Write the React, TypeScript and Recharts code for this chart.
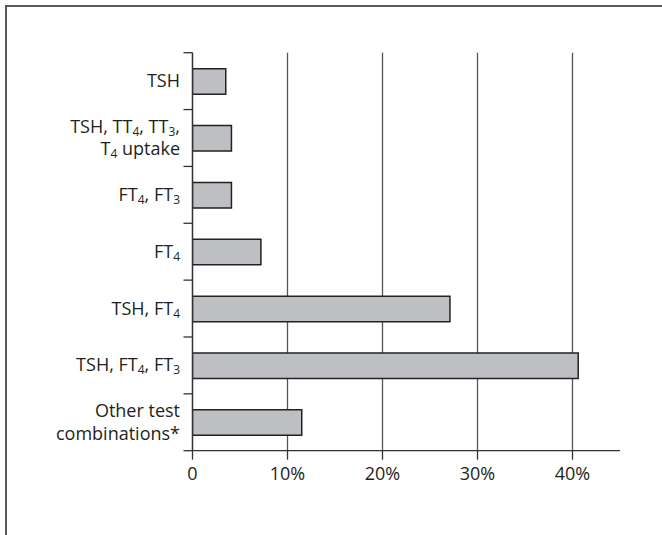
import React from "react";
import { BarChart, Bar, XAxis, YAxis, CartesianGrid } from "recharts";

// Category labels: "|" separates lines, "_n" marks a subscript digit
const categories = [
  "TSH",
  "TSH, TT_4, TT_3,|T_4 uptake",
  "FT_4, FT_3",
  "FT_4",
  "TSH, FT_4",
  "TSH, FT_4, FT_3",
  "Other test|combinations*",
];
const shares = [3.5, 4.1, 4.1, 7.2, 27.1, 40.6, 11.5];
const xTicks = [0, 10, 20, 30, 40];

const data = categories.map((c, i) => ({ name: c, value: shares[i] }));

const FONT = "'Open Sans', 'Noto Sans', sans-serif";
const INK = "#231f20";
const AXIS = "#333";

function renderLine(line: string, key: number, x: number, y: number) {
  const parts = line.split(/_(\d)/);
  const spans: React.ReactNode[] = [];
  let shifted = 0;
  parts.forEach((p, i) => {
    if (p === "") return;
    const isSub = i % 2 === 1;
    const target = isSub ? 3 : 0;
    const dy = target - shifted;
    shifted = target;
    spans.push(
      <tspan key={i} dy={dy} fontSize={isSub ? 12 : 18}>
        {p}
      </tspan>
    );
  });
  return (
    <text key={key} x={x} y={y} textAnchor="end" fontFamily={FONT} fontSize={18} fill={INK}>
      {spans}
    </text>
  );
}

const CategoryTick = (props: any) => {
  const { x, y, payload, visibleTicksCount } = props;
  const half = typeof payload.offset === "number" && payload.offset > 0 ? payload.offset : 28.43;
  const lines = String(payload.value).split("|");
  const lh = 22.5;
  const start = y + 6 - ((lines.length - 1) * lh) / 2;
  const isLast = payload.index === (visibleTicksCount ?? categories.length) - 1;
  return (
    <g>
      <line x1={x - 9} x2={x} y1={y - half} y2={y - half} stroke={AXIS} strokeWidth={1.3} />
      {isLast && <line x1={x - 9} x2={x} y1={y + half} y2={y + half} stroke={AXIS} strokeWidth={1.3} />}
      {lines.map((l, i) => renderLine(l, i, x - 12.5, start + i * lh))}
    </g>
  );
};

export default function App() {
  return (
    <div style={{ position: "absolute", left: 0, top: 0, width: 662, height: 535, background: "#fff" }}>
      <div
        style={{
          position: "absolute",
          left: 5,
          top: 5,
          width: 657,
          height: 530,
          borderTop: "2px solid #5a5a5a",
          borderLeft: "2px solid #5a5a5a",
          boxSizing: "border-box",
        }}
      />
      <div style={{ position: "absolute", left: 0, top: 0 }}>
        <BarChart
          layout="vertical"
          width={662}
          height={535}
          data={data}
          margin={{ top: 52.7, right: 42, bottom: 54.3, left: 191.5 }}
          barCategoryGap={0}
        >
          <CartesianGrid
            yAxisId="cat"
            horizontal={false}
            vertical={true}
            syncWithTicks={true}
            stroke="#555"
            strokeWidth={1.3}
          />
          <XAxis
            type="number"
            dataKey="value"
            domain={[0, 45]}
            ticks={xTicks}
            allowDataOverflow
            height={30}
            tickSize={9}
            tickMargin={7.5}
            axisLine={{ stroke: AXIS, strokeWidth: 1.3 }}
            tickLine={{ stroke: AXIS, strokeWidth: 1.3 }}
            tickFormatter={(v: number) => (v === 0 ? "0" : `${v}%`)}
            tick={{ fontFamily: FONT, fontSize: 18, fill: INK }}
          />
          <YAxis
            yAxisId="cat"
            type="category"
            dataKey="name"
            width={1}
            axisLine={{ stroke: AXIS, strokeWidth: 1.3 }}
            tickLine={false}
            tickSize={0}
            tickMargin={0}
            interval={0}
            tick={<CategoryTick />}
          />
          <Bar
            yAxisId="cat"
            dataKey="value"
            barSize={25.5}
            fill="#bebfc3"
            stroke="#222"
            strokeWidth={1.5}
            isAnimationActive={false}
          />
        </BarChart>
      </div>
    </div>
  );
}
